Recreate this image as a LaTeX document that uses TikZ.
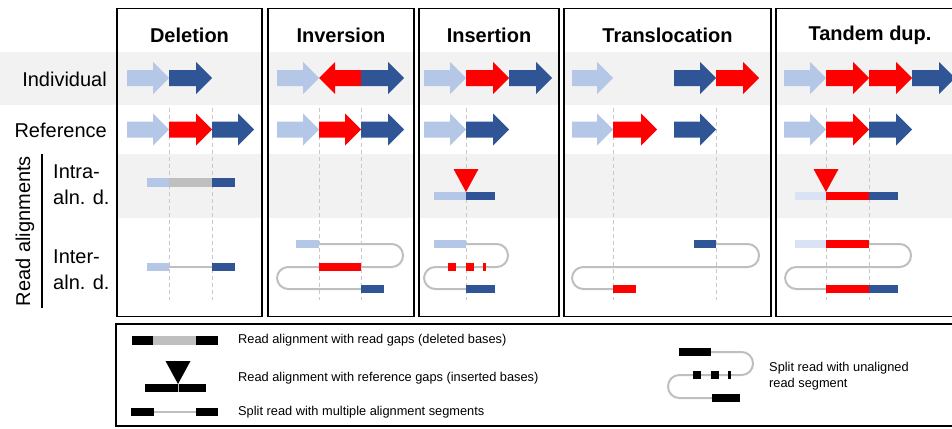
\documentclass[tikz,border=0pt]{standalone}
\usepackage{fontspec}
\setmainfont{Liberation Sans}
\definecolor{lb}{HTML}{B4C7E7}
\definecolor{db}{HTML}{2F5597}
\definecolor{rd}{HTML}{FF0000}
\definecolor{vlb}{HTML}{DAE3F3}
\definecolor{bandc}{HTML}{F2F2F2}
\definecolor{gapg}{HTML}{BFBFBF}
\definecolor{dashg}{HTML}{C8C8C8}
\newcommand{\myRA}[4]{\fill[#4] (#1,#3-8) -- (#2-16,#3-8) -- (#2-16,#3-16) -- (#2,#3) -- (#2-16,#3+16) -- (#2-16,#3+8) -- (#1,#3+8) -- cycle;}
\newcommand{\myLA}[4]{\fill[#4] (#2,#3-8) -- (#1+16,#3-8) -- (#1+16,#3-16) -- (#1,#3) -- (#1+16,#3+16) -- (#1+16,#3+8) -- (#2,#3+8) -- cycle;}
\newcommand{\myBar}[4]{\fill[#4] (#1,#3-4.2) rectangle (#2,#3+4.2);}
\newcommand{\myTri}[3]{\fill[#3] (#1,#2) -- (#1-12.5,#2-23) -- (#1+12.5,#2-23) -- cycle;}
\begin{document}
\begin{tikzpicture}[x=1pt,y=-1pt,
  panelbox/.style={draw=black,line width=1.6},
  readline/.style={draw=gapg,line width=2,rounded corners=11.3},
  dashv/.style={draw=dashg,line width=0.8,dash pattern=on 4 off 3},
  title/.style={font=\fontsize{20}{24}\selectfont\bfseries,inner sep=0},
  rowlab/.style={font=\fontsize{20}{24}\selectfont,inner sep=0},
  leglab/.style={font=\fontsize{12.8}{15.5}\selectfont,inner sep=0,anchor=west,align=left}]
\useasboundingbox (0,0) rectangle (952,428);
\clip (0,0) rectangle (952,428);
\fill[white] (0,0) rectangle (952,428);
% bands
\fill[bandc] (0,52) rectangle (117,105);
\foreach \a/\b in {117/262,268/414,419/559,564/771,776/965}{
  \fill[bandc] (\a,52) rectangle (\b,105);
  \fill[bandc] (\a,154) rectangle (\b,218);
}
% dashed guides
\foreach \x in {169,212,319,361,466,613,716,826,869}{
  \draw[dashv] (\x,108) -- (\x,300);
}
% labels
\node[rowlab,anchor=east] (lind) at (107,79) {Individual};
\node[rowlab,anchor=east] (lref) at (107,130) {Reference};
\node[rowlab,anchor=west] (lintra1) at (53,172) {Intra-};
\node[rowlab,anchor=west] (lintra2) at (53,197) {aln. d.};
\node[rowlab,anchor=west] (linter1) at (53,257) {Inter-};
\node[rowlab,anchor=west] (linter2) at (53,282) {aln. d.};
\node[rowlab,rotate=90] (lread) at (25,231) {Read alignments};
\draw[line width=2] (42,154) -- (42,308);
% titles
\node[title] (tdel) at (189.5,35) {Deletion};
\node[title] (tinv) at (341,35) {Inversion};
\node[title] (tins) at (489,35) {Insertion};
\node[title] (ttra) at (667.5,35) {Translocation};
\node[title] (ttan) at (870,35) {Tandem dup.};
% ---- Deletion
\myRA{127}{169}{78}{lb}
\myRA{169}{212}{78}{db}
\myRA{127}{169}{129.5}{lb}
\myRA{169}{212}{129.5}{rd}
\myRA{212}{254}{129.5}{db}
\myBar{147}{169}{182.5}{lb}
\myBar{169}{212}{182.5}{gapg}
\myBar{212}{235}{182.5}{db}
\draw[draw=gapg,line width=2] (169,267) -- (212,267);
\myBar{147}{169}{267}{lb}
\myBar{212}{235}{267}{db}
% ---- Inversion
\myRA{277}{319}{78}{lb}
\myLA{319}{361}{78}{rd}
\myRA{361}{404}{78}{db}
\myRA{277}{319}{129.5}{lb}
\myRA{319}{361}{129.5}{rd}
\myRA{361}{404}{129.5}{db}
\draw[readline] (319,244) -- (403,244) -- (403,267) -- (277,267) -- (277,289) -- (361,289);
\myBar{296}{319}{244}{lb}
\myBar{319}{361}{267}{rd}
\myBar{361}{384}{289}{db}
% ---- Insertion
\myRA{424}{466}{78}{lb}
\myRA{466}{509}{78}{rd}
\myRA{509}{552}{78}{db}
\myRA{424}{466}{129.5}{lb}
\myRA{466}{509}{129.5}{db}
\myBar{434}{466}{196}{lb}
\myBar{466}{495}{196}{db}
\myTri{466}{192}{rd}
\draw[readline] (466,244) -- (508,244) -- (508,267) -- (424,267) -- (424,289) -- (466,289);
\myBar{434}{466}{244}{lb}
\myBar{448}{456}{267}{rd}
\myBar{466}{474}{267}{rd}
\myBar{483}{485.5}{267}{rd}
\myBar{466}{495}{289}{db}
% ---- Translocation
\myRA{572}{613}{78}{lb}
\myRA{674}{716}{78}{db}
\myRA{716}{759}{78}{rd}
\myRA{572}{613}{129.5}{lb}
\myRA{613}{657}{129.5}{rd}
\myRA{674}{716}{129.5}{db}
\draw[readline] (716,244) -- (759,244) -- (759,267) -- (572,267) -- (572,289) -- (613,289);
\myBar{694}{716}{244}{db}
\myBar{613}{636}{289}{rd}
% ---- Tandem dup
\myRA{784}{826}{78}{lb}
\myRA{826}{869}{78}{rd}
\myRA{869}{912}{78}{rd}
\myRA{912}{955}{78}{db}
\myRA{784}{826}{129.5}{lb}
\myRA{826}{869}{129.5}{rd}
\myRA{869}{912}{129.5}{db}
\myBar{795}{826}{196}{vlb}
\myBar{826}{869}{196}{rd}
\myBar{869}{898}{196}{db}
\myTri{826}{192}{rd}
\draw[readline] (869,244) -- (911,244) -- (911,267) -- (785,267) -- (785,289) -- (826,289);
\myBar{795}{826}{244}{vlb}
\myBar{826}{869}{244}{rd}
\myBar{826}{869}{289}{rd}
\myBar{869}{898}{289}{db}
% panel boxes
\foreach \a/\b in {117/262,268/414,419/559,564/771,776/965}{
  \draw[panelbox] (\a,8.5) rectangle (\b,316.5);
}
% legend
\draw[panelbox] (116,324) rectangle (965,426);
\myBar{132}{153}{340.5}{black}
\myBar{153}{196}{340.5}{gapg}
\myBar{196}{218}{340.5}{black}
\node[leglab] (leg1) at (238,340.5) {Read alignment with read gaps (deleted bases)};
\myBar{145}{206}{388}{black}
\draw[gapg,line width=0.6] (178,384) -- (178,392);
\myTri{178}{384}{black}
\node[leglab] (leg2) at (238,378) {Read alignment with reference gaps (inserted bases)};
\draw[draw=gapg,line width=2] (154,412) -- (196,412);
\myBar{131}{154}{412}{black}
\myBar{196}{218}{412}{black}
\node[leglab] (leg3) at (238,412) {Split read with multiple alignment segments};
\draw[readline] (711,352) -- (753,352) -- (753,375) -- (668,375) -- (668,398) -- (712,398);
\myBar{679}{711}{352}{black}
\myBar{693}{701}{375}{black}
\myBar{711}{719}{375}{black}
\myBar{728}{730.5}{375}{black}
\myBar{712}{740}{398}{black}
\node[leglab] (leg4) at (769,376) {Split read with unaligned\\read segment};
\end{tikzpicture}
\end{document}
